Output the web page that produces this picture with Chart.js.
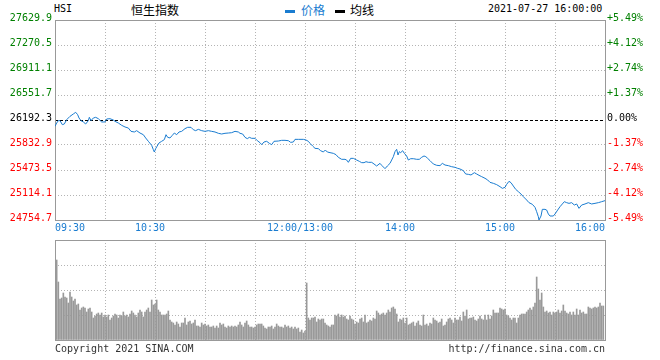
<!DOCTYPE html>
<html><head><meta charset="utf-8">
<script src="https://cdn.jsdelivr.net/npm/chart.js@4.4.0/dist/chart.umd.min.js"></script>
<style>
body{margin:0;width:660px;height:360px;background:#fff;position:relative;overflow:hidden;font-family:"DejaVu Sans Mono",monospace;}
.t{position:absolute;white-space:nowrap;font-size:10px;line-height:12px;font-family:"DejaVu Sans Mono",monospace;}
.cjk{position:absolute;white-space:nowrap;font-size:12px;line-height:14px;font-family:"Noto Sans CJK SC",sans-serif;}
.bar{position:absolute;width:10px;height:3px;}
#c1{position:absolute;left:0;top:0;}
#c2{position:absolute;left:0;top:230px;}
</style></head><body>
<div class="t" style="left:54px;top:3px;color:#000">HSI</div>
<div class="cjk" style="left:131px;top:3px;color:#000">恒生指数</div>
<div class="bar" style="left:285px;top:10px;background:#1a7cd0"></div>
<div class="cjk" style="left:301px;top:3px;color:#1a7cd0">价格</div>
<div class="bar" style="left:335px;top:10px;background:#000"></div>
<div class="cjk" style="left:350px;top:3px;color:#000">均线</div>
<div class="t" style="left:488px;top:3px;color:#000">2021-07-27 16:00:00</div>
<canvas id="c1" width="660" height="240"></canvas>
<canvas id="c2" width="660" height="130"></canvas>
<div class="t" style="left:55px;top:343px;color:#333">Copyright 2021 SINA.COM</div>
<div class="t" style="right:55px;top:343px;color:#333">http://finance.sina.com.cn</div>
<script>
// ---- data ----
const prevClose = 26192.3;
const leftTicks = [24754.7, 25114.1, 25473.5, 25832.9, 26192.3, 26551.7, 26911.1, 27270.5, 27629.9];
const rightTickLabels = ['-5.49%', '-4.12%', '-2.74%', '-1.37%', '0.00%', '+1.37%', '+2.74%', '+4.12%', '+5.49%'];
const xTickMinutes = [0, 30, 60, 90, 120, 150, 180, 210, 240, 270, 300, 330];
const xLabelMinutes = [0, 60, 150, 210, 270, 330];
const xLabels = ['09:30', '10:30', '12:00/13:00', '14:00', '15:00', '16:00'];
const volTicks = [0, 25, 50, 75, 100];

const priceMinutes = [0,1,2,3,4.4,5.6,7,9,11,12.4,13.6,14.4,15.6,17,18.4,20,20.6,21.6,23,24.4,26,28,30,31,33,35,36,38,40,42,44,45.6,47.6,49,51,53,54.4,56,58,59,59.6,60.4,61.2,62.4,64,65.6,66.6,67.6,69,70.4,71.6,73,74.4,76,78,79.6,81.6,83,84.4,86,88,90,92,94,96,98,100,102,104,106,108,110,
111,112.6,114,115.4,116.6,118,120,121.4,123,124,125.4,127,128.6,130,131.4,134,136,138,140,141.4,143,144,146,149,150.6,152,153,154.6,156,158,159.4,161,162.2,163.4,165,167,168.6,170,172,174,175,176,177.4,179,181,182.6,184,185.4,186.6,188,190,191.4,193,195,196,198,199.4,201,202,203,204,205,205.8,206.6,207.4,208.6,209.6,211,212,213.4,215,217,218.6,220,221.4,
222.5,223.6,225,227,229,231,232.4,234,236,238,240,241.6,243,245,246.4,248,249.6,251.6,253,254.4,256,258,259.6,261,263,265,267,268.4,270,271,272.4,273.6,275,276.4,278,279.6,281,283,284.4,286.4,288,289,290,290.4,291.6,292.4,294,295,296,297,299,300,301.6,303,304.4,305.6,307,308.4,310,311.6,313,314.4,316,318,320,322,324,326,328,330];
const priceValues = [26101,26149,26183,26183,26125,26135,26197,26245,26279,26303,26269,26221,26183,26164,26135,26183,26231,26183,26221,26231,26211,26164,26164,26207,26211,26192,26173,26149,26116,26092,26077,26029,26020,26039,26005,25981,25934,25886,25828,25766,25732,25780,25814,25862,25886,25910,25981,25943,25934,25972,26005,25981,26020,26029,26068,26087,26087,26053,26039,26058,26039,26029,26039,26029,26020,26001,25991,26001,26005,26010,26029,26020,
26001,25991,25943,25924,25943,25929,25929,25895,25866,25838,25876,25886,25857,25838,25886,25890,25900,25900,25895,25871,25876,25914,25914,25914,25905,25886,25857,25818,25785,25780,25751,25732,25761,25732,25723,25713,25694,25656,25627,25627,25617,25584,25641,25641,25617,25598,25579,25579,25593,25584,25584,25560,25531,25569,25541,25493,25531,25569,25617,25665,25737,25771,25689,25737,25723,25751,25713,25675,25617,25636,25636,25627,25627,25656,25675,
25665,25641,25608,25560,25541,25536,25569,25545,25536,25521,25512,25497,25488,25464,25416,25411,25402,25435,25416,25397,25378,25354,25330,25296,25282,25263,25234,25210,25224,25267,25311,25291,25243,25196,25162,25128,25090,25042,25004,24980,24937,24874,24802,24755,24812,24908,24908,24898,24841,24812,24812,24841,24898,24946,24985,25018,25004,24994,25004,24970,24985,24922,24970,24985,25004,24985,24994,25004,25018,25033];

// volume (relative units, 0-100 scale), one bar per minute starting at 09:31
const volumes = [80,58,41,42,47,43,42,37,48,43,39,41,35,36,30,32,33,32,28,31,32,28,22,24,26,27,25,27,23,25,23,25,20,22,24,26,25,22,25,24,28,24,25,23,26,29,27,25,23,27,30,28,23,28,30,32,28,40,35,36,40,30,28,25,25,25,26,29,20,18,17,15,18,16,13,17,17,22,15,18,19,16,17,20,14,14,13,17,15,16,14,15,13,13,14,12,14,12,17,15,16,13,12,14,13,14,13,14,13,15,18,15,13,17,19,15,13,13,12,13,15,16,16,16,14,12,11,13,13,14,11,13,16,14,13,13,12,15,13,14,12,13,11,13,11,12,8,10,7,9,57,22,20,22,22,23,18,21,20,21,21,17,15,14,
13,15,15,25,24,26,23,25,23,24,21,20,24,21,20,16,18,17,21,22,18,25,17,18,20,19,22,21,29,27,25,26,27,25,27,30,28,32,33,31,26,18,21,20,22,17,22,15,16,17,18,14,17,19,15,14,25,15,16,14,17,16,22,20,19,17,18,21,14,15,18,21,22,20,17,22,20,20,23,19,28,24,30,21,22,22,23,20,19,21,24,21,20,25,20,25,21,24,30,27,27,27,32,31,30,31,25,24,22,20,22,22,17,22,25,26,26,26,28,30,32,30,33,37,63,51,40,47,33,28,29,27,28,25,28,27,28,30,27,29,35,29,27,26,28,25,28,25,31,25,30,27,28,26,26,33,32,31,32,33,32,33,37,34,34];

// ---- styles ----
const BLUE = '#1a7cd0';
const GREEN = '#008000';
const RED = '#ff0000';
const GRID = '#b4b4b4';
const FRAME = '#999999';
const MONO = {family: '"DejaVu Sans Mono", monospace', size: 10};
const clear = 'rgba(0,0,0,0)';

function labelColor(v) {
  if (Math.abs(v - prevClose) < 0.01) return '#000';
  return v > prevClose ? GREEN : RED;
}

const framePlugin = {
  id: 'frame',
  beforeDatasetsDraw(chart) {
    const {ctx, chartArea: a} = chart;
    ctx.save();
    ctx.strokeStyle = FRAME;
    ctx.lineWidth = 1;
    ctx.setLineDash([]);
    ctx.strokeRect(Math.round(a.left) + 0.5, Math.round(a.top) + 0.5,
                   Math.round(a.right - a.left), Math.round(a.bottom - a.top));
    ctx.restore();
  }
};

const xLabelPlugin = {
  id: 'xlabels',
  afterDraw(chart) {
    const {ctx, chartArea: a} = chart;
    const sx = chart.scales.x;
    ctx.save();
    ctx.font = '10px "DejaVu Sans Mono", monospace';
    ctx.fillStyle = BLUE;
    ctx.textBaseline = 'middle';
    xLabelMinutes.forEach((m, i) => {
      const px = sx.getPixelForValue(m);
      if (i === 0) { ctx.textAlign = 'left'; ctx.fillText(xLabels[i], px, a.bottom + 8); }
      else if (i === xLabels.length - 1) { ctx.textAlign = 'right'; ctx.fillText(xLabels[i], px, a.bottom + 8); }
      else { ctx.textAlign = 'center'; ctx.fillText(xLabels[i], px - 5, a.bottom + 8); }
    });
    ctx.restore();
  }
};

const edgeX = v => v === xTickMinutes[0] || v === xTickMinutes[xTickMinutes.length - 1];

new Chart(document.getElementById('c1'), {
  type: 'line',
  data: {
    datasets: [{
      label: '价格',
      data: priceMinutes.map((m, i) => ({x: m, y: priceValues[i]})),
      borderColor: BLUE,
      borderWidth: 1,
      pointRadius: 0,
      tension: 0,
      fill: false
    }]
  },
  options: {
    responsive: false,
    animation: false,
    events: [],
    layout: {padding: {top: 20, left: 0, right: 0, bottom: 0}},
    plugins: {legend: {display: false}, tooltip: {enabled: false}},
    scales: {
      x: {
        type: 'linear', min: 0, max: 330,
        afterBuildTicks: a => { a.ticks = xTickMinutes.map(v => ({value: v})); },
        afterFit: a => { a.height = 20; },
        ticks: {display: false},
        grid: {color: c => (c.tick && !edgeX(c.tick.value)) ? GRID : clear, drawTicks: false, lineWidth: 1},
        border: {display: false, dash: [1, 2]}
      },
      y: {
        position: 'left',
        min: leftTicks[0], max: leftTicks[leftTicks.length - 1],
        afterBuildTicks: a => { a.ticks = leftTicks.map(v => ({value: v})); },
        afterFit: a => { a.width = 55; },
        ticks: {
          font: MONO, padding: 3, labelOffset: -2, autoSkip: false,
          color: c => labelColor(c.tick.value),
          callback: v => Number(v).toFixed(1)
        },
        grid: {
          drawTicks: false, lineWidth: 1,
          color: c => {
            if (!c.tick) return clear;
            const v = c.tick.value;
            if (v === leftTicks[0] || v === leftTicks[leftTicks.length - 1]) return clear;
            if (Math.abs(v - prevClose) < 0.01) return '#000';
            return GRID;
          }
        },
        border: {display: false, dash: c => (c.tick && Math.abs(c.tick.value - prevClose) < 0.01) ? [3, 2] : [1, 2]}
      },
      y2: {
        position: 'right',
        min: leftTicks[0], max: leftTicks[leftTicks.length - 1],
        afterBuildTicks: a => { a.ticks = leftTicks.map(v => ({value: v})); },
        afterFit: a => { a.width = 55; },
        ticks: {
          font: MONO, padding: 2, labelOffset: -2, autoSkip: false,
          color: c => labelColor(c.tick.value),
          callback: (v, i) => rightTickLabels[i]
        },
        grid: {display: false, drawTicks: false},
        border: {display: false}
      }
    }
  },
  plugins: [framePlugin, xLabelPlugin]
});

new Chart(document.getElementById('c2'), {
  type: 'bar',
  data: {
    datasets: [{
      label: '成交量',
      data: volumes.map((v, i) => ({x: i + 1, y: v})),
      backgroundColor: '#999999',
      barThickness: 1
    }]
  },
  options: {
    responsive: false,
    animation: false,
    events: [],
    layout: {padding: {top: 10, left: 55, right: 55, bottom: 20}},
    plugins: {legend: {display: false}, tooltip: {enabled: false}},
    scales: {
      x: {
        type: 'linear', min: 0, max: 330, offset: false,
        afterBuildTicks: a => { a.ticks = xTickMinutes.map(v => ({value: v})); },
        afterFit: a => { a.height = 0; },
        ticks: {display: false},
        grid: {color: c => (c.tick && !edgeX(c.tick.value)) ? GRID : clear, drawTicks: false, lineWidth: 1, offset: false},
        border: {display: false, dash: [1, 2]}
      },
      y: {
        min: 0, max: 100,
        afterBuildTicks: a => { a.ticks = volTicks.map(v => ({value: v})); },
        afterFit: a => { a.width = 0; },
        ticks: {display: false},
        grid: {color: c => (c.tick && c.tick.value > 0 && c.tick.value < 100) ? GRID : clear, drawTicks: false, lineWidth: 1},
        border: {display: false, dash: [1, 2]}
      }
    }
  },
  plugins: [{
    id: 'frame2',
    afterDraw(chart) { framePlugin.beforeDatasetsDraw(chart); }
  }]
});
</script>
</body></html>
